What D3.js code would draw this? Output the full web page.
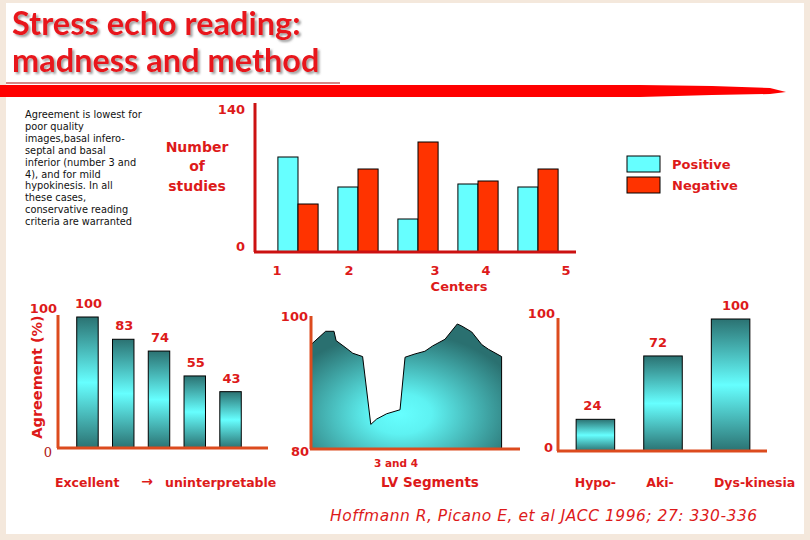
<!DOCTYPE html>
<html>
<head>
<meta charset="utf-8">
<script src="https://d3js.org/d3.v7.min.js"></script>
<style>
  body { margin: 0; background: #fff; }
  svg { display: block; }
</style>
</head>
<body>
<svg id="slide" width="810" height="540"></svg>
<script>
// --- data ---
// number of studies per center
var centers = ["1", "2", "3", "4", "5"];
var positive = [95, 65, 33, 68, 65];
var negative = [48, 83, 110, 71, 83];
var studyTicks = [0, 140];

// agreement by image quality (excellent -> uninterpretable)
var quality = ["q1", "q2", "q3", "q4", "q5"];
var qualityAgree = [100, 83, 74, 55, 43];
var qualityTicks = [0, 100];

// agreement along the LV segments (x = position on the segment axis, 0-100)
var segPos = [0, 7, 11, 12, 16.3, 20, 24.7, 28.6, 31.4, 36.2, 42.6, 45, 49.8, 54.5, 58.2, 64.1, 70, 72.1, 76.9, 81.7, 84.9, 91.2];
var segAgree = [95.7, 97.7, 97.7, 96.3, 95.3, 94.4, 93.9, 83.7, 84.5, 85.3, 85.9, 93.8, 94.3, 94.7, 95.5, 96.5, 98.8, 98.5, 97.6, 95.7, 95.0, 93.9];
var segTicks = [80, 100];

// agreement by wall motion abnormality
var motion = ["Hypo-", "Aki-", "Dys-kinesia"];
var motionAgree = [24, 72, 100];
var motionTicks = [0, 100];

// --- styles ---
var RED = "#dd1a1a";
var AXIS = "#dc4b1e";
var CYAN = "#66ffff";
var ORANGE = "#ff3300";
var BOLD = "'DejaVu Sans', sans-serif";

var svg = d3.select("#slide");
var defs = svg.append("defs");

var bg = defs.append("linearGradient").attr("id", "barGrad")
    .attr("x1", 0).attr("y1", 0).attr("x2", 0).attr("y2", 1);
bg.append("stop").attr("offset", "0%").attr("stop-color", "#2b7272");
bg.append("stop").attr("offset", "50%").attr("stop-color", "#66ffff");
bg.append("stop").attr("offset", "100%").attr("stop-color", "#2b7272");

var ag = defs.append("radialGradient").attr("id", "areaGrad")
    .attr("cx", "47%").attr("cy", "72%").attr("r", "65%");
ag.append("stop").attr("offset", "0%").attr("stop-color", "#66ffff");
ag.append("stop").attr("offset", "25%").attr("stop-color", "#5ef2f2");
ag.append("stop").attr("offset", "100%").attr("stop-color", "#2a7070");

var sh = defs.append("filter").attr("id", "shadow")
    .attr("x", "-5%").attr("y", "-5%").attr("width", "115%").attr("height", "130%");
sh.append("feDropShadow").attr("dx", 2).attr("dy", 2).attr("stdDeviation", 1)
    .attr("flood-color", "#888").attr("flood-opacity", 0.8);

// slide frame
svg.append("rect").attr("width", 810).attr("height", 540).attr("fill", "#f4e8dc");
svg.append("rect").attr("x", 6).attr("y", 3).attr("width", 798).attr("height", 531).attr("fill", "#fff");

// title
var title = svg.append("g").attr("filter", "url(#shadow)")
    .attr("font-family", "Lato, sans-serif").attr("font-weight", "bold")
    .attr("font-size", 32.5).attr("fill", "#e8141a");
title.append("text").attr("x", 12).attr("y", 35).text("Stress echo reading:");
title.append("text").attr("x", 12).attr("y", 72).text("madness and method");

svg.append("line").attr("x1", 6).attr("x2", 340).attr("y1", 83).attr("y2", 83)
    .attr("stroke", "#b01010").attr("stroke-width", 1.2);
svg.append("path")
    .attr("d", "M0,85 L640,85 L712,86 L770,88 L786,92 L770,94 L712,95 L640,97 L0,97 Z")
    .attr("fill", "#ff0000");

// note
var note = ["Agreement is lowest for", "poor quality", "images,basal infero-", "septal and basal",
    "inferior (number 3 and", "4), and for mild", "hypokinesis. In all", "these cases,",
    "conservative reading", "criteria are warranted"];
svg.append("g").selectAll("text").data(note).join("text")
    .attr("x", 25).attr("y", (d, i) => 118 + i * 11.9)
    .attr("font-family", BOLD).attr("font-size", 9.8).attr("fill", "#111")
    .text(d => d);

function redText(g, x, y, s, size, anchor) {
    return g.append("text").attr("x", x).attr("y", y)
        .attr("font-family", BOLD).attr("font-weight", "bold")
        .attr("font-size", size || 13).attr("fill", RED)
        .attr("text-anchor", anchor || "middle").text(s);
}

// ---------- chart 1: number of studies ----------
var c1 = svg.append("g");
var x1 = d3.scaleBand().domain(centers).range([268, 568]).paddingInner(0.33).paddingOuter(0.165);
var x1s = d3.scaleBand().domain(["pos", "neg"]).range([0, x1.bandwidth()]);
var y1 = d3.scaleLinear().domain([0, 140]).range([252, 112]);

var groups = c1.selectAll("g.center").data(centers).join("g")
    .attr("class", "center")
    .attr("transform", d => "translate(" + x1(d) + ",0)");
groups.append("rect")
    .attr("x", x1s("pos")).attr("width", x1s.bandwidth())
    .attr("y", (d, i) => y1(positive[i])).attr("height", (d, i) => y1(0) - y1(positive[i]))
    .attr("fill", CYAN).attr("stroke", "#000").attr("stroke-width", 1);
groups.append("rect")
    .attr("x", x1s("neg")).attr("width", x1s.bandwidth())
    .attr("y", (d, i) => y1(negative[i])).attr("height", (d, i) => y1(0) - y1(negative[i]))
    .attr("fill", ORANGE).attr("stroke", "#000").attr("stroke-width", 1);

c1.append("line").attr("x1", 255).attr("x2", 255).attr("y1", 103).attr("y2", y1(0))
    .attr("stroke", "#cc1111").attr("stroke-width", 3);
c1.append("line").attr("x1", 254).attr("x2", 576).attr("y1", y1(0)).attr("y2", y1(0))
    .attr("stroke", "#cc1111").attr("stroke-width", 3);

var ax1 = c1.append("g").attr("transform", "translate(245,0)")
    .call(d3.axisLeft(y1).tickValues(studyTicks).tickSize(0).tickPadding(0));
ax1.select(".domain").remove();
ax1.selectAll("text").attr("font-family", BOLD).attr("font-weight", "bold")
    .attr("font-size", 13).attr("fill", RED)
    .attr("dy", (d) => d === 0 ? "-0.1em" : "0.1em");

// center labels sit at uneven spots in the original
var centerDx = [-21, -9, 17, 8, 28];
c1.selectAll("text.cl").data(centers).join("text").attr("class", "cl")
    .attr("x", (d, i) => x1(d) + x1.bandwidth() / 2 + centerDx[i]).attr("y", 275)
    .attr("font-family", BOLD).attr("font-weight", "bold").attr("font-size", 13)
    .attr("fill", RED).attr("text-anchor", "middle").text(d => d);
redText(c1, 459, 291, "Centers");
redText(c1, 197, 152, "Number", 14);
redText(c1, 197, 171, "of", 14);
redText(c1, 197, 191, "studies", 14);

// legend
var legend = c1.append("g").attr("transform", "translate(627,156)");
[["Positive", CYAN], ["Negative", ORANGE]].forEach(function (d, i) {
    legend.append("rect").attr("x", 0).attr("y", i * 21).attr("width", 33).attr("height", 16)
        .attr("fill", d[1]).attr("stroke", "#000").attr("stroke-width", 1);
    redText(legend, 45, i * 21 + 13, d[0], 13, "start");
});

// ---------- chart 2: image quality ----------
var c2 = svg.append("g");
var x2 = d3.scaleBand().domain(quality).range([66, 252]).paddingInner(0.4).paddingOuter(0.3);
var y2 = d3.scaleLinear().domain([0, 100]).range([448, 317]);

c2.selectAll("rect").data(qualityAgree).join("rect")
    .attr("x", (d, i) => x2(quality[i])).attr("width", x2.bandwidth())
    .attr("y", d => y2(d)).attr("height", d => y2(0) - y2(d))
    .attr("fill", "url(#barGrad)").attr("stroke", "#000").attr("stroke-width", 1);
c2.selectAll("text.v").data(qualityAgree).join("text").attr("class", "v")
    .attr("x", (d, i) => x2(quality[i]) + x2.bandwidth() / 2 + 1).attr("y", d => y2(d) - 9)
    .attr("font-family", BOLD).attr("font-weight", "bold").attr("font-size", 13)
    .attr("fill", RED).attr("text-anchor", "middle").text(d => d);

c2.append("line").attr("x1", 58).attr("x2", 58).attr("y1", 315).attr("y2", y2(0))
    .attr("stroke", AXIS).attr("stroke-width", 3);
c2.append("line").attr("x1", 57).attr("x2", 268).attr("y1", y2(0)).attr("y2", y2(0))
    .attr("stroke", AXIS).attr("stroke-width", 3);
redText(c2, 57, y2(qualityTicks[1]) - 4, String(qualityTicks[1]), 13, "end");
c2.append("text").attr("x", 52).attr("y", y2(qualityTicks[0]) + 9)
    .attr("font-family", "'DejaVu Serif', serif").attr("font-size", 13).attr("fill", "#b01818")
    .attr("text-anchor", "end").text(String(qualityTicks[0]));
c2.append("text").attr("transform", "translate(42,377) rotate(-90)")
    .attr("font-family", BOLD).attr("font-weight", "bold").attr("font-size", 14.5)
    .attr("fill", RED).attr("text-anchor", "middle").text("Agreement (%)");

redText(c2, 55, 487, "Excellent", 12.5, "start");
redText(c2, 147, 486, "\u2192", 14);
redText(c2, 165, 487, "uninterpretable", 12.5, "start");

// ---------- chart 3: LV segments ----------
var c3 = svg.append("g");
var x3 = d3.scaleLinear().domain([0, 100]).range([311, 520]);
var y3 = d3.scaleLinear().domain([80, 100]).range([449, 316]);
var seg = segPos.map((p, i) => ({ p: p, v: segAgree[i] }));

c3.append("path").datum(seg)
    .attr("d", d3.area().x(d => x3(d.p)).y0(y3(80)).y1(d => y3(d.v)))
    .attr("fill", "url(#areaGrad)");
c3.append("path").datum(seg.concat([{ p: segPos[segPos.length - 1], v: 80 }]))
    .attr("d", d3.line().x(d => x3(d.p)).y(d => y3(d.v)))
    .attr("fill", "none").attr("stroke", "#000").attr("stroke-width", 1);

c3.append("line").attr("x1", 311).attr("x2", 311).attr("y1", 316).attr("y2", y3(80))
    .attr("stroke", AXIS).attr("stroke-width", 3);
c3.append("line").attr("x1", 310).attr("x2", 520).attr("y1", y3(80)).attr("y2", y3(80))
    .attr("stroke", AXIS).attr("stroke-width", 3);
redText(c3, 308, y3(segTicks[1]) + 5, String(segTicks[1]), 13, "end");
redText(c3, 309, y3(segTicks[0]) + 7, String(segTicks[0]), 13, "end");
redText(c3, 396, 467, "3 and 4", 10.5);
redText(c3, 430, 487, "LV Segments", 13.5);

// ---------- chart 4: wall motion ----------
var c4 = svg.append("g");
var x4 = d3.scaleBand().domain(motion).range([566, 760]).paddingInner(0.43).paddingOuter(0.15);
var y4 = d3.scaleLinear().domain([0, 100]).range([451, 319]);

c4.selectAll("rect").data(motionAgree).join("rect")
    .attr("x", (d, i) => x4(motion[i])).attr("width", x4.bandwidth())
    .attr("y", d => y4(d)).attr("height", d => y4(0) - y4(d))
    .attr("fill", "url(#barGrad)").attr("stroke", "#000").attr("stroke-width", 1);
var valueDx = [-3, -5, 5];
c4.selectAll("text.v").data(motionAgree).join("text").attr("class", "v")
    .attr("x", (d, i) => x4(motion[i]) + x4.bandwidth() / 2 + valueDx[i]).attr("y", d => y4(d) - 9)
    .attr("font-family", BOLD).attr("font-weight", "bold").attr("font-size", 13)
    .attr("fill", RED).attr("text-anchor", "middle").text(d => d);

c4.append("line").attr("x1", 558).attr("x2", 558).attr("y1", 318).attr("y2", y4(0))
    .attr("stroke", AXIS).attr("stroke-width", 3);
c4.append("line").attr("x1", 557).attr("x2", 767).attr("y1", y4(0)).attr("y2", y4(0))
    .attr("stroke", AXIS).attr("stroke-width", 3);
redText(c4, 555, y4(motionTicks[1]) - 1, String(motionTicks[1]), 13, "end");
redText(c4, 553, y4(motionTicks[0]) + 1, String(motionTicks[0]), 13, "end");

var labelDx = [0, -3, 24];
c4.selectAll("text.cat").data(motion).join("text").attr("class", "cat")
    .attr("x", (d, i) => x4(d) + x4.bandwidth() / 2 + labelDx[i]).attr("y", 487)
    .attr("font-family", BOLD).attr("font-weight", "bold").attr("font-size", 12.5)
    .attr("fill", RED).attr("text-anchor", "middle").text(d => d);

// reference
svg.append("text").attr("x", 330).attr("y", 521)
    .attr("font-family", BOLD).attr("font-style", "italic").attr("font-size", 15.5)
    .attr("letter-spacing", 0.5)
    .attr("fill", RED).text("Hoffmann R, Picano E, et al JACC 1996; 27: 330-336");
</script>
</body>
</html>
